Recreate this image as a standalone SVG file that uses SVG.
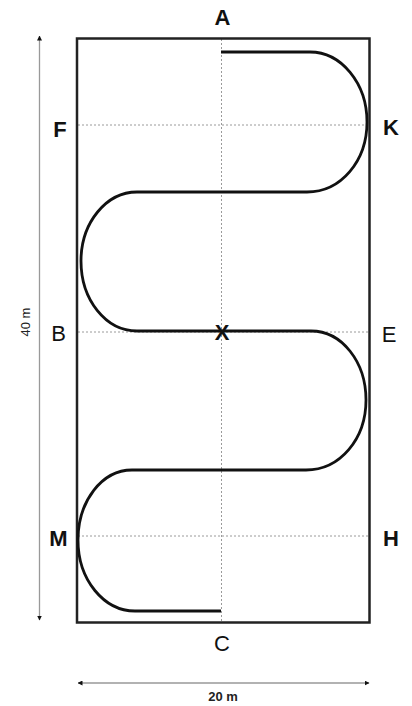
<svg xmlns="http://www.w3.org/2000/svg" width="412" height="706" viewBox="0 0 412 706">
<defs>
<style>
.lbl{font-family:"Liberation Sans",Arial,sans-serif;font-size:22px;fill:#111;text-anchor:middle}
.b{font-weight:bold}
.dim{font-family:"Liberation Sans",Arial,sans-serif;font-size:13px;fill:#222;text-anchor:middle}
.dot{stroke:#9a9a9a;stroke-width:1;stroke-dasharray:2 2;fill:none}
.arr{stroke:#999;stroke-width:1.3;fill:none}
</style>
<marker id="ah" viewBox="0 0 10 10" refX="9" refY="5" markerWidth="5" markerHeight="5" orient="auto-start-reverse" markerUnits="userSpaceOnUse">
<path d="M0,0 L10,5 L0,10 Z" fill="#111"/>
</marker>
</defs>
<rect width="412" height="706" fill="#fff"/>
<g id="arena">
<line class="dot" x1="221.5" y1="39" x2="221.5" y2="622"/>
<line class="dot" x1="78" y1="125" x2="369" y2="125"/>
<line class="dot" x1="78" y1="332" x2="369" y2="332"/>
<line class="dot" x1="78" y1="536" x2="369" y2="536"/>
<rect x="77" y="38.5" width="292.5" height="584" fill="none" stroke="#222" stroke-width="2.5"/>
</g>
<g id="route">
<path d="M221,52 H310 C341,52 367,83 367,122 C367,161 341,192 307,192 H137 C106,192 81,223 81,261 C81,300 106,331 137,331 H311 C342,331 366,362 366,400 C366,439 340,470 306,470 H132 C102,470 78,501 78,540 C78,580 104,611 135,611 H221" fill="none" stroke="#111" stroke-width="2.8"/>
</g>
<g id="labels">
<text class="lbl b" x="222.5" y="25">A</text>
<text class="lbl b" x="60" y="137">F</text>
<text class="lbl b" x="391" y="135">K</text>
<text class="lbl" x="58.5" y="341">B</text>
<text class="lbl b" x="222" y="340">X</text>
<text class="lbl" x="389" y="342">E</text>
<text class="lbl b" x="58.5" y="546">M</text>
<text class="lbl b" x="391" y="546">H</text>
<text class="lbl" x="222" y="651">C</text>
</g>
<g id="dimensions">
<line class="arr" x1="39.5" y1="36" x2="39.5" y2="620" marker-start="url(#ah)" marker-end="url(#ah)"/>
<text class="dim" transform="translate(29.5,322) rotate(-90)" x="0" y="0">40 m</text>
<line class="arr" x1="78" y1="683" x2="369" y2="683" stroke-width="2" stroke="#bbb" marker-start="url(#ah)" marker-end="url(#ah)"/>
<text class="dim b" x="223" y="701">20 m</text>
</g>
</svg>
